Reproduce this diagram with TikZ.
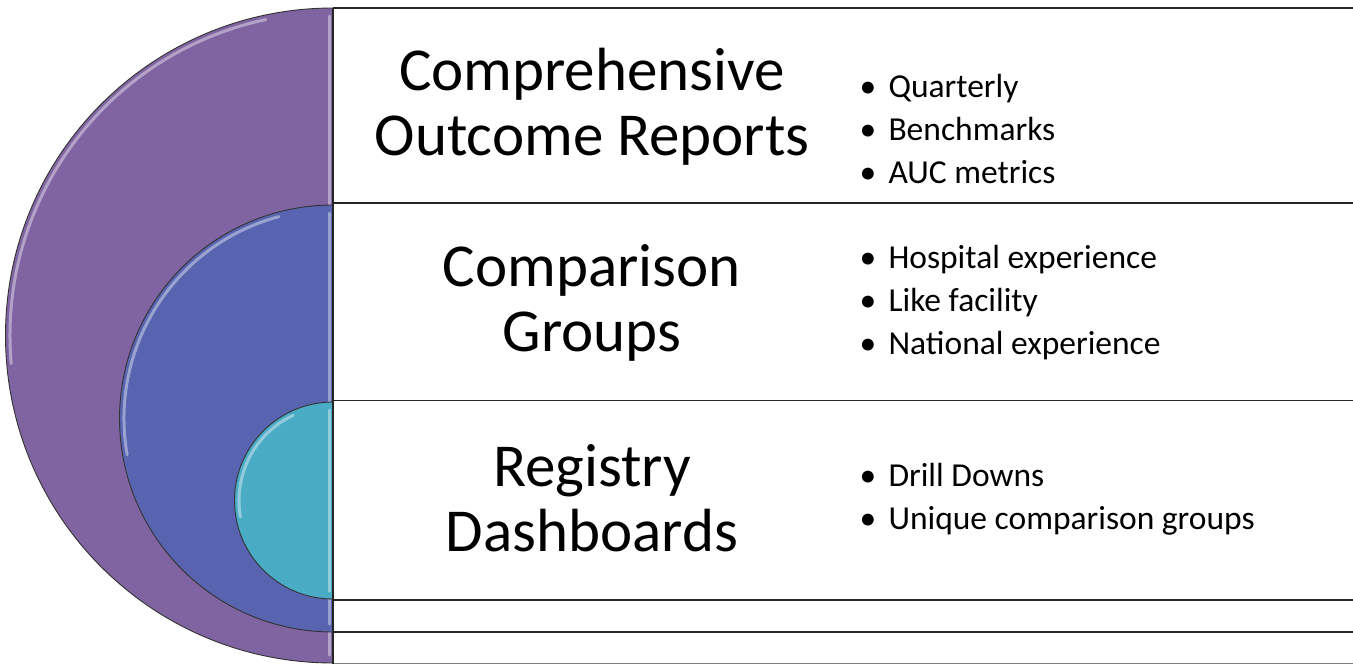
\documentclass[tikz,border=0pt]{standalone}
\usepackage{fontspec}
\setmainfont{Carlito}
\definecolor{outerpurple}{HTML}{8064A2}
\definecolor{midblue}{HTML}{5864B0}
\definecolor{innercyan}{HTML}{4AABC5}
\tikzset{
  rowline/.style={black!85, line width=1.5pt},
  disk/.style={draw=black!80, line width=0.9pt},
  gloss/.style={white, opacity=0.4, line width=3pt, line cap=round},
  title/.style={align=center, font=\fontsize{61}{65}\selectfont},
  points/.style={align=left, anchor=west, font=\fontsize{33.5}{43}\selectfont},
}
\newcommand{\itm}{\makebox[29pt][l]{\textbullet}}
\begin{document}
\begin{tikzpicture}[x=1pt,y=-1pt]
  \useasboundingbox (0,0) rectangle (1353,665);
  % nested half disks
  \begin{scope}
    \clip (0,0) rectangle (333,665);
    \fill[outerpurple, disk] (333,335.5) circle[radius=327.5];
    \draw[gloss] ([shift={(333,335.5)}]175:323) arc[start angle=175, end angle=258, radius=323];
    \draw[gloss] (329.5,16) -- (329.5,655);
    \fill[midblue, disk] (333,418.5) circle[radius=213.5];
    \draw[gloss] ([shift={(333,418.5)}]170:209) arc[start angle=170, end angle=255, radius=209];
    \draw[gloss] (329.5,213) -- (329.5,624);
    \fill[innercyan, disk] (333,500.5) circle[radius=98.5];
    \draw[gloss] ([shift={(333,500.5)}]170:94) arc[start angle=170, end angle=245, radius=94];
    \draw[gloss] (329.5,410) -- (329.5,591);
  \end{scope}
  % rows
  \draw[rowline] (333,8) -- (1353,8);
  \draw[rowline] (333,203) -- (1353,203);
  \draw[rowline] (333,400.5) -- (1353,400.5);
  \draw[rowline] (333,600) -- (1353,600);
  \draw[rowline] (333,632) -- (1353,632);
  \draw[rowline, black!50] (333,663.5) -- (1353,663.5);
  \draw[rowline] (333,8) -- (333,664);
  % titles
  \node[title] (reports) at (592,107) {Comprehensive\\Outcome Reports};
  \node[title] (groups) at (592,303) {Comparison\\Groups};
  \node[title] (dashboards) at (592,498) {Registry\\Dashboards};
  % bullet lists
  \node[points] (reportitems) at (856,129) {\itm Quarterly\\\itm Benchmarks\\\itm AUC metrics};
  \node[points] (groupitems) at (856,303) {\itm Hospital experience\\\itm Like facility\\\itm National experience};
  \node[points] (dashitems) at (856,499) {\itm Drill Downs\\\itm Unique comparison groups};
\end{tikzpicture}
\end{document}
